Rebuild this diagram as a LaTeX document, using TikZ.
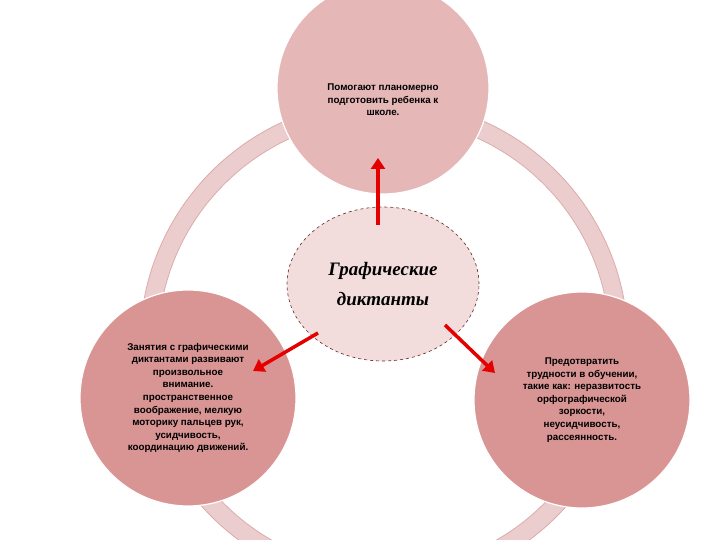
\documentclass[tikz,border=0pt]{standalone}
\usepackage{fontspec}
\setmainfont{Liberation Sans}
\newfontfamily\serifit{Liberation Serif}
\usetikzlibrary{arrows.meta,shapes.geometric}
\definecolor{ringfill}{RGB}{236,205,205}
\definecolor{ringline}{RGB}{220,170,170}
\definecolor{topc}{RGB}{229,183,183}
\definecolor{sidec}{RGB}{217,149,148}
\definecolor{cenc}{RGB}{242,220,220}
\definecolor{cenl}{RGB}{100,40,40}
\begin{document}
\begin{tikzpicture}[x=1pt,y=1pt,
  bub/.style={circle,draw=white,line width=1.2pt,align=center,font=\bfseries\fontsize{9.8}{12.6}\selectfont,text=black},
  arr/.style={red!90!black,line width=3.5pt,-{Triangle[length=11pt,width=14pt]}}]
\useasboundingbox (0,0) rectangle (720,540);
\fill[white] (0,0) rectangle (720,540);
% ring
\fill[ringfill] (384,196) circle (244);
\fill[white] (384,196) circle (226);
\draw[ringline,line width=0.8pt] (384,196) circle (244) (384,196) circle (226);
% circles
\node[bub,fill=topc,minimum size=212pt] (top) at (383,452) {};
\node[align=center,font=\bfseries\fontsize{9.8}{12.6}\selectfont] (toptxt) at (383,440) {Помогают планомерно\\подготовить  ребенка к\\школе.};
\node[bub,fill=sidec,minimum size=216pt] (left) at (188,142) {Занятия с графическими\\диктантами  развивают\\произвольное\\внимание.\\пространственное\\воображение, мелкую\\моторику  пальцев рук,\\усидчивость,\\координацию  движений.};
\node[bub,fill=sidec,minimum size=216pt] (right) at (582,140) {Предотвратить\\трудности  в обучении,\\такие как: неразвитость\\орфографической\\зоркости,\\неусидчивость,\\рассеянность.};
\node[ellipse,draw=cenl,dashed,line width=0.6pt,fill=cenc,minimum width=192pt,minimum height=154pt,inner sep=0pt,align=center,font=\serifit\bfseries\itshape\fontsize{19}{30}\selectfont] (c) at (383,256) {Графические\\диктанты};
% arrows
\coordinate (a1) at (378,315); \coordinate (a2) at (378,382);
\coordinate (b1) at (318,207); \coordinate (b2) at (253,169);
\coordinate (d1) at (445,215); \coordinate (d2) at (495,167);
\draw[arr] (a1) -- (a2);
\draw[arr] (b1) -- (b2);
\draw[arr] (d1) -- (d2);
\end{tikzpicture}
\end{document}
